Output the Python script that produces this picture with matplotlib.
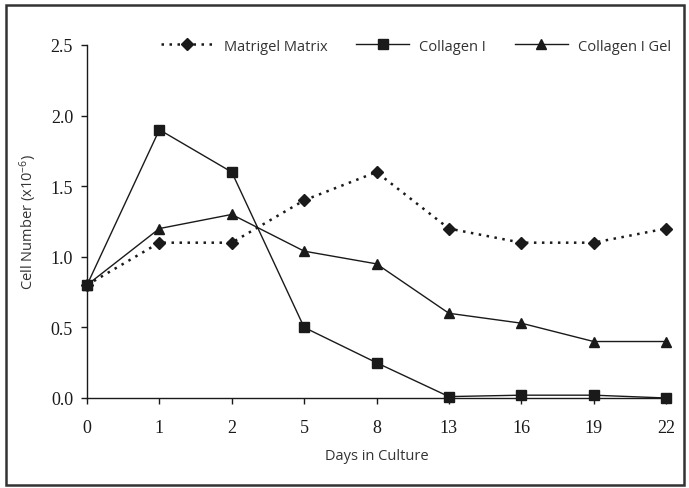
import matplotlib
matplotlib.use("Agg")
import matplotlib.pyplot as plt
from matplotlib.patches import Rectangle

days = ["0", "1", "2", "5", "8", "13", "16", "19", "22"]
matrigel = [0.8, 1.1, 1.1, 1.4, 1.6, 1.2, 1.1, 1.1, 1.2]
collagen = [0.8, 1.9, 1.6, 0.5, 0.25, 0.01, 0.02, 0.02, 0.0]
collagen_gel = [0.8, 1.2, 1.3, 1.04, 0.95, 0.6, 0.53, 0.4, 0.4]
yticks = [0.0, 0.5, 1.0, 1.5, 2.0, 2.5]

plt.rcParams['mathtext.fontset'] = 'custom'
plt.rcParams['mathtext.rm'] = 'Open Sans'
plt.rcParams['mathtext.it'] = 'Open Sans'

fig = plt.figure(figsize=(6.89, 4.89), dpi=100)
ax = fig.add_axes([87/689, 1-399/489, (666-87)/689, (399-46)/489])

x = list(range(len(days)))
c = '#1a1a1a'
ax.plot(x, matrigel, linestyle=(0, (1, 2.2)), lw=1.8, color=c, marker='D',
        markersize=6.5, label='Matrigel Matrix', clip_on=False)
ax.plot(x, collagen, linestyle='-', lw=1.0, color=c, marker='s',
        markersize=7, label='Collagen I', clip_on=False)
ax.plot(x, collagen_gel, linestyle='-', lw=1.0, color=c, marker='^',
        markersize=7.5, label='Collagen I Gel', clip_on=False)

ax.set_xlim(0, len(days)-1)
ax.set_ylim(0, 2.5)
ax.set_xticks(x)
ax.set_xticklabels(days)
ax.set_yticks(yticks)
ax.set_yticklabels([f"{v:.1f}" for v in yticks])
for s in ['top', 'right']:
    ax.spines[s].set_visible(False)
for s in ['left', 'bottom']:
    ax.spines[s].set_linewidth(1.0)
    ax.spines[s].set_color(c)

ax.tick_params(axis='x', direction='out', length=4, width=1.0, pad=11, colors=c)
ax.tick_params(axis='y', direction='out', length=4, width=1.0, pad=6, colors=c)
for lab in ax.get_xticklabels() + ax.get_yticklabels():
    lab.set_fontfamily('Liberation Serif')
    lab.set_fontsize(13)
    lab.set_color('#1a1a1a')

ax.set_xlabel('Days in Culture', fontfamily='Open Sans', fontsize=10.5,
              color='#333333')
ax.xaxis.set_label_coords(0.5, -(457-399)/353, transform=ax.transAxes)
ax.xaxis.label.set_va('center')
ax.set_ylabel(r'Cell Number (x10$^{-6}$)', fontfamily='Open Sans', fontsize=10.5,
              color='#333333')
ax.yaxis.set_label_coords(-(87-28)/579, 0.5, transform=ax.transAxes)
ax.yaxis.label.set_va('center')

leg = ax.legend(loc='center', bbox_to_anchor=(0.568, 0.997), ncol=3, frameon=False,
                prop={'family': 'Open Sans', 'size': 10.5}, handlelength=3.6,
                handletextpad=0.7, columnspacing=2.0, borderaxespad=0)
for t in leg.get_texts():
    t.set_color('#333333')

fig.patches.append(Rectangle((6/689, 1-486/489), (684-6)/689, (486-6)/489,
                             transform=fig.transFigure, fill=False,
                             edgecolor='#333333', lw=1.8))

fig.savefig('out.png', dpi=100)
